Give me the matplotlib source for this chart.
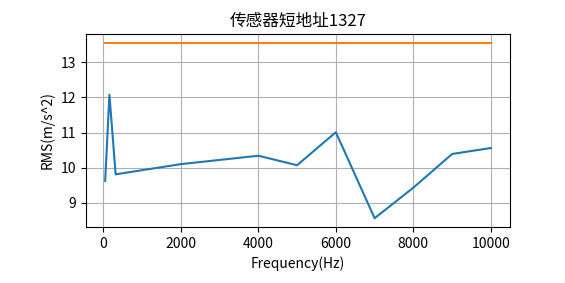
import numpy as np
from matplotlib import pyplot as plt

plt.rcParams['font.family'] = ['Noto Sans CJK SC', 'DejaVu Sans']
plt.rcParams['axes.unicode_minus'] = False

freqs = [50, 160, 320, 2000, 4000, 5000, 6000, 7000, 8000, 9000, 10000]
rms = [9.62, 12.08, 9.81, 10.10, 10.34, 10.07, 11.01, 8.56, 9.43, 10.39, 10.56]
limit = [13.56] * len(freqs)

fig = plt.figure(figsize=(5.65, 2.83), dpi=100)
ax = fig.add_axes([0.152, 0.198, 0.751, 0.682])
ax.plot(freqs, rms)
ax.plot(freqs, limit)
ax.grid(True)
ax.set_title("传感器短地址1327")
ax.set_xlabel("Frequency(Hz)")
ax.set_ylabel("RMS(m/s^2)")
ax.set_xticks([0, 2000, 4000, 6000, 8000, 10000])

fig.savefig("out.png", dpi=100)
